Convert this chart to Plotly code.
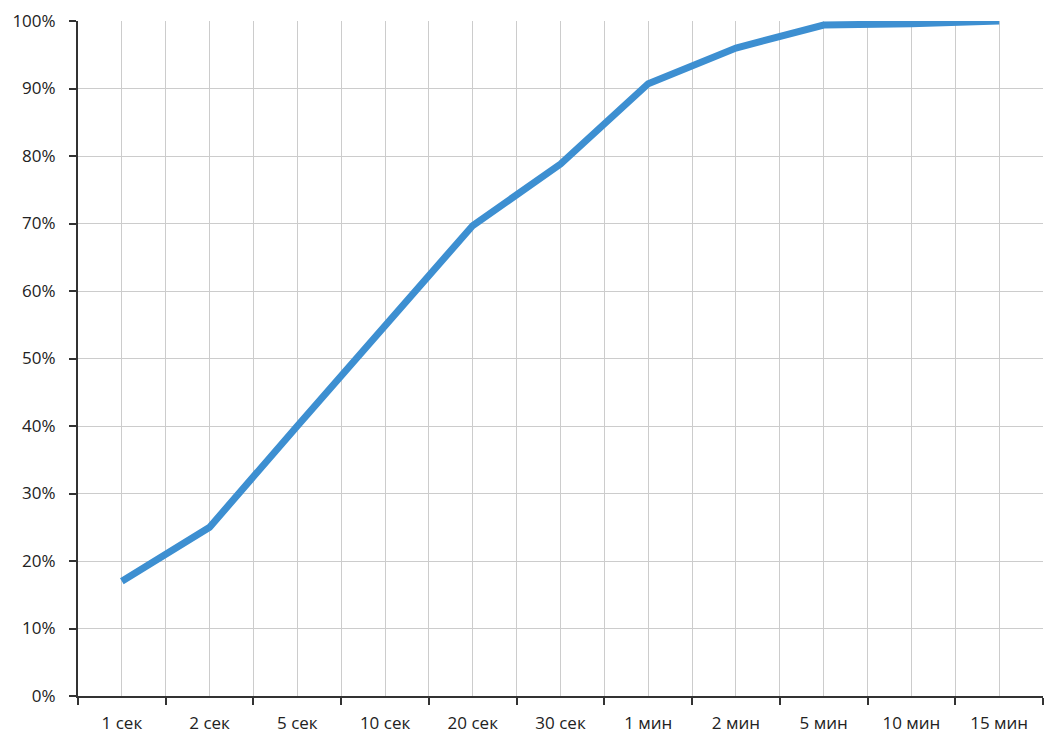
import plotly.graph_objects as go

categories = ["1 сек", "2 сек", "5 сек", "10 сек", "20 сек", "30 сек",
              "1 мин", "2 мин", "5 мин", "10 мин", "15 мин"]
values = [17.0, 25.0, 40.0, 55.0, 69.7, 78.8, 90.7, 96.0, 99.4, 99.6, 100.0]
y_ticks = list(range(0, 101, 10))

n = len(categories)
xpos = list(range(n))

fig = go.Figure()
fig.add_trace(go.Scatter(
    x=xpos, y=values, mode="lines",
    line=dict(color="#3d8fd1", width=7),
    cliponaxis=False,
    hoverinfo="skip", showlegend=False,
))

font = dict(family="Open Sans, Noto Sans, sans-serif", size=17, color="#222222")

fig.update_layout(
    width=1046, height=736,
    margin=dict(l=78, r=3, t=21, b=40, autoexpand=False),
    paper_bgcolor="white", plot_bgcolor="white",
    font=font,
    xaxis=dict(
        range=[-0.5, n - 0.5], automargin=False,
        tickmode="array", tickvals=xpos, ticktext=categories,
        ticks="", showgrid=True, gridcolor="#cccccc", gridwidth=1,
        showline=True, linecolor="#333333", linewidth=2,
        ticklabelstandoff=11, zeroline=False,
        minor=dict(tickmode="array", tickvals=[i - 0.5 for i in range(n + 1)],
                   ticks="outside", ticklen=7, tickwidth=2, tickcolor="#333333",
                   showgrid=True, gridcolor="#cccccc", gridwidth=1),
    ),
    yaxis=dict(
        range=[0, 100], automargin=False,
        tickmode="array", tickvals=y_ticks,
        ticktext=[f"{v}%" for v in y_ticks],
        ticks="outside", ticklen=7, tickwidth=2, tickcolor="#333333",
        showgrid=True, gridcolor="#cccccc", gridwidth=1,
        showline=True, linecolor="#333333", linewidth=2,
        ticklabelstandoff=10, zeroline=False,
    ),
)

fig.write_html(
    "out.html",
    config={"displayModeBar": False},
    post_script="document.body.style.margin='0';document.body.style.overflow='hidden';",
)
